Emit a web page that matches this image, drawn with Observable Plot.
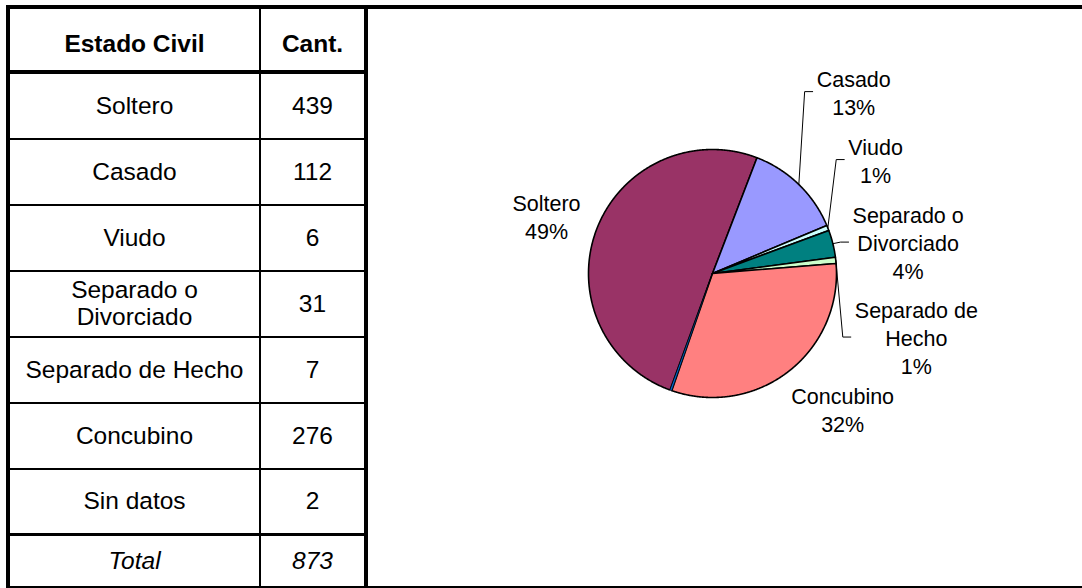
<!DOCTYPE html>
<html>
<head>
<meta charset="utf-8">
<script src="https://cdn.jsdelivr.net/npm/d3@7"></script>
<script src="https://cdn.jsdelivr.net/npm/@observablehq/plot@0.6"></script>
<style>
  html, body { margin: 0; padding: 0; background: #fff; }
  body { width: 1082px; height: 588px; position: relative; overflow: hidden;
         font-family: "Liberation Sans", Arial, sans-serif; color: #000; }
  #frame { position: absolute; left: 6px; top: 5px; width: 1076px; height: 583px;
           box-sizing: border-box; border-top: 4px solid #000; border-bottom: 2px solid #000;
           display: flex; }
  table { border-collapse: separate; border-spacing: 0; table-layout: fixed;
          width: 362px; height: 577px; box-sizing: border-box;
          border-left: 4px solid #000; border-right: 4px solid #000; flex: none; }
  td { padding: 0; text-align: center; vertical-align: middle; font-size: 24.5px;
       border-bottom: 2px solid #000; box-sizing: border-box; white-space: pre-line;
       line-height: 1.1; }
  td.c1 { border-right: 2px solid #000; }
  tr.head td { font-weight: bold; border-bottom-width: 4px; padding-top: 9px; }
  tr.last td { border-bottom-width: 3px; }
  tr.total td { font-style: italic; border-bottom: none; }
  #chart { flex: none; }
</style>
</head>
<body>
<div id="frame">
  <table id="tbl">
    <colgroup><col style="width:251px"><col style="width:103px"></colgroup>
    <tbody></tbody>
  </table>
  <div id="chart"></div>
</div>
<script>
// ---- data ----
const headers = ["Estado Civil", "Cant."];
const tableNames = ["Soltero", "Casado", "Viudo", "Separado o\nDivorciado", "Separado de Hecho", "Concubino", "Sin datos"];
const pieNames = ["Soltero", "Casado", "Viudo", "Separado o\nDivorciado", "Separado de\nHecho", "Concubino", "Sin datos"];
const counts = [439, 112, 6, 31, 7, 276, 2];
const totalLabel = "Total";
const totalValue = 873;
const pctLabels = [49, 13, 1, 4, 1, 32, null];
const sliceColors = ["#993366", "#9999FF", "#CCFFFF", "#008080", "#CCFFCC", "#FF8080", "#0066CC"];

// ---- layout (label placement relative to each slice's mid-angle) ----
const labelAngleNudge = [-1.4, -6.3, -13.4, 4.8, 23.4, -6.2, 0];   // degrees
const labelRadius = [1.417, 1.857, 1.604, 1.598, 1.722, 1.513, 1.4]; // in pie radii
const hasLeader = [false, true, true, true, true, false, false];

// ---- table ----
const tbody = d3.select("#tbl tbody");
const hr = tbody.append("tr").attr("class", "head").style("height", "65px");
hr.append("td").attr("class", "c1").text(headers[0]);
hr.append("td").text(headers[1]);
tableNames.forEach((name, i) => {
  const tr = tbody.append("tr").style("height", "66px")
    .attr("class", i === tableNames.length - 1 ? "last" : null);
  tr.append("td").attr("class", "c1").text(name);
  tr.append("td").text(counts[i]);
});
const tt = tbody.append("tr").attr("class", "total").style("height", "50px");
tt.append("td").attr("class", "c1").text(totalLabel);
tt.append("td").text(totalValue);

// ---- pie ----
const W = 714, H = 577;
const Rpx = 124, cxPx = 344, cyPx = 264;
const rows = counts.map((c, i) => ({name: pieNames[i], count: c, color: sliceColors[i], i}));
const deg = Math.PI / 180;
const arcs = d3.pie().sort(null).value(d => d.count)
  .startAngle(200 * deg).endAngle(560 * deg)(rows);

const marks = [];
arcs.forEach(a => {
  const span = a.endAngle - a.startAngle;
  const n = Math.max(2, Math.ceil(span / (0.25 * deg)));
  const pts = [{x: 0, y: 0}];
  for (let k = 0; k <= n; k++) {
    const t = a.startAngle + span * k / n;
    pts.push({x: Math.sin(t), y: Math.cos(t)});
  }
  const tiny = pctLabels[a.data.i] == null;
  marks.push(Plot.line(pts, {x: "x", y: "y", curve: "linear-closed", fill: a.data.color,
    stroke: "black", strokeWidth: tiny ? 0.5 : 1.6, strokeLinejoin: "round"}));
});

const fontSize = 21.5, lineH = 1.31;
const ctx = document.createElement("canvas").getContext("2d");
ctx.font = `${fontSize}px "Liberation Sans", Arial, sans-serif`;
const labels = [];
const leaders = [];
arcs.forEach((a, i) => {
  if (pctLabels[i] == null) return;
  const mid = (a.startAngle + a.endAngle) / 2;
  const la = mid + labelAngleNudge[i] * deg;
  const lx = labelRadius[i] * Math.sin(la), ly = labelRadius[i] * Math.cos(la);
  const text = `${pieNames[i]}\n${pctLabels[i]}%`;
  labels.push({x: lx, y: ly, text});
  if (hasLeader[i]) {
    const halfW = d3.max(text.split("\n"), s => ctx.measureText(s).width) / 2 / Rpx;
    const endX = lx - halfW - 4 / Rpx;
    const elbowX = endX - 8 / Rpx;
    leaders.push(
      {x: Math.sin(mid), y: Math.cos(mid), k: i},
      {x: elbowX, y: ly, k: i},
      {x: endX, y: ly, k: i}
    );
  }
});
marks.push(Plot.line(leaders, {x: "x", y: "y", z: "k", stroke: "black", strokeWidth: 1}));
marks.push(Plot.text(labels, {x: "x", y: "y", text: "text", fontSize, lineHeight: lineH,
  fill: "black", textAnchor: "middle"}));

const chart = Plot.plot({
  width: W, height: H,
  marginTop: 0, marginRight: 0, marginBottom: 0, marginLeft: 0,
  x: {domain: [-cxPx / Rpx, (W - cxPx) / Rpx], axis: null},
  y: {domain: [(cyPx - H) / Rpx, cyPx / Rpx], axis: null},
  style: {fontFamily: '"Liberation Sans", Arial, sans-serif', background: "white", overflow: "visible"},
  marks
});
document.getElementById("chart").appendChild(chart);
</script>
</body>
</html>
